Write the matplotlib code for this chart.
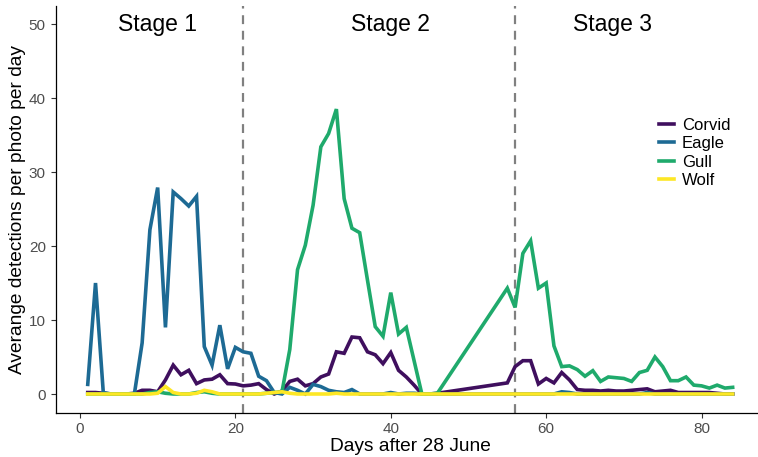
import matplotlib
matplotlib.use("Agg")
import matplotlib.pyplot as plt
import numpy as np

plt.rcParams['font.family'] = ['Liberation Sans', 'DejaVu Sans']

days = list(range(1, 47)) + list(range(55, 85))

corvid = [0.2, 0.2, 0.1, 0, 0, 0, 0.1, 0.5, 0.5, 0.3,
          1.9, 3.9, 2.6, 3.2, 1.4, 1.9, 2.0, 2.6, 1.4, 1.35,
          1.1, 1.2, 1.4, 0.6, 0, 0.4, 1.7, 2.0, 1.1, 1.4,
          2.3, 2.7, 5.7, 5.5, 7.7, 7.6, 5.7, 5.3, 4.1, 5.6,
          3.2, 2.3, 1.2, 0, 0, 0.1,
          1.5, 3.7, 4.5, 4.5, 1.35, 2.1, 1.5, 2.9, 1.9, 0.6,
          0.5, 0.5, 0.4, 0.5, 0.4, 0.4, 0.5, 0.6, 0.7, 0.3,
          0.4, 0.5, 0.2, 0.2, 0.2, 0.2, 0.2, 0.1, 0, 0]

eagle = [1.3, 15.0, 0.2, 0, 0, 0, 0, 6.9, 22.2, 27.9,
         9.0, 27.3, 26.4, 25.4, 26.7, 6.4, 3.9, 9.3, 3.4, 6.3,
         5.7, 5.5, 2.4, 1.8, 0.2, 0, 0.9, 0.5, 0, 1.3,
         1.0, 0.5, 0.3, 0.2, 0.6, 0, 0, 0, 0, 0.2,
         0, 0.1, 0.1, 0, 0, 0,
         0, 0, 0, 0, 0, 0, 0, 0.3, 0.2, 0,
         0, 0, 0, 0, 0, 0, 0, 0, 0.2, 0,
         0, 0, 0, 0, 0, 0, 0, 0, 0, 0]

gull = [0, 0, 0, 0, 0, 0, 0, 0, 0.2, 0.3,
        0.1, 0, 0, 0, 0.2, 0.3, 0.1, 0, 0, 0,
        0, 0, 0, 0.1, 0.2, 0.3, 6.0, 16.8, 20.1, 25.5,
        33.4, 35.2, 38.5, 26.4, 22.4, 21.8, 15.4, 9.1, 7.8, 13.7,
        8.1, 9.0, 4.5, 0, 0, 0.1,
        14.3, 11.7, 19.0, 20.7, 14.3, 15.0, 6.5, 3.7, 3.8, 3.3,
        2.4, 3.15, 1.7, 2.3, 2.2, 2.1, 1.7, 2.9, 3.2, 5.0,
        3.7, 1.8, 1.8, 2.3, 1.2, 1.1, 0.8, 1.2, 0.8, 0.9]

wolf = [0, 0, 0, 0, 0, 0, 0, 0, 0, 0.1,
        1.0, 0.2, 0, 0, 0.1, 0.5, 0.3, 0, 0, 0,
        0, 0, 0, 0.1, 0.2, 0.3, 0.1, 0, 0, 0,
        0, 0, 0.1, 0, 0, 0, 0, 0, 0, 0,
        0, 0, 0, 0, 0, 0,
        0, 0, 0, 0, 0, 0, 0, 0, 0, 0,
        0, 0, 0, 0, 0, 0, 0, 0, 0, 0,
        0, 0, 0, 0, 0, 0, 0, 0, 0, 0]

species = ["Corvid", "Eagle", "Gull", "Wolf"]
series = [corvid, eagle, gull, wolf]
colors = ["#3F0F5E", "#1D6A94", "#1FAA6C", "#FDE725"]

stage_breaks = [21, 56]
stage_labels = ["Stage 1", "Stage 2", "Stage 3"]
stage_label_x = [10, 40, 68.5]

fig = plt.figure(figsize=(7.58, 4.57), dpi=100)
fig.patch.set_facecolor("white")
ax = fig.add_axes([55.5 / 758, 1 - 412.5 / 457, 709.4 / 758, 407 / 457])

for name, vals, c in zip(species, series, colors):
    ax.plot(days, vals, color=c, lw=2.6, label=name, solid_joinstyle="miter")

for b in stage_breaks:
    ax.axvline(b, color="#808080", lw=1.6, ls=(0, (4, 3)), zorder=0.5)

for lab, x in zip(stage_labels, stage_label_x):
    ax.text(x, 50, lab, ha="center", va="center", fontsize=16.5, color="black")

ax.set_xlim(-3.15, 88.15)
ax.set_ylim(-2.5, 52.5)
ax.set_xticks([0, 20, 40, 60, 80])
ax.set_yticks([0, 10, 20, 30, 40, 50])
ax.tick_params(axis="both", labelsize=11, labelcolor="#4D4D4D", color="#333333",
               length=3.5, width=0.8)
for s in ["top", "right"]:
    ax.spines[s].set_visible(False)
for s in ["left", "bottom"]:
    ax.spines[s].set_linewidth(0.9)
    ax.spines[s].set_color("black")

ax.set_xlabel("Days after 28 June", fontsize=13.8, labelpad=1)
ax.set_ylabel("Averange detections per photo per day", fontsize=13.8, labelpad=2)

leg = ax.legend(loc="upper left", bbox_to_anchor=(0.842, 0.74), frameon=False,
                fontsize=12, handlelength=0.9, handletextpad=0.45,
                labelspacing=0.2, borderaxespad=0)

fig.savefig("out.png", dpi=100, facecolor="white")
